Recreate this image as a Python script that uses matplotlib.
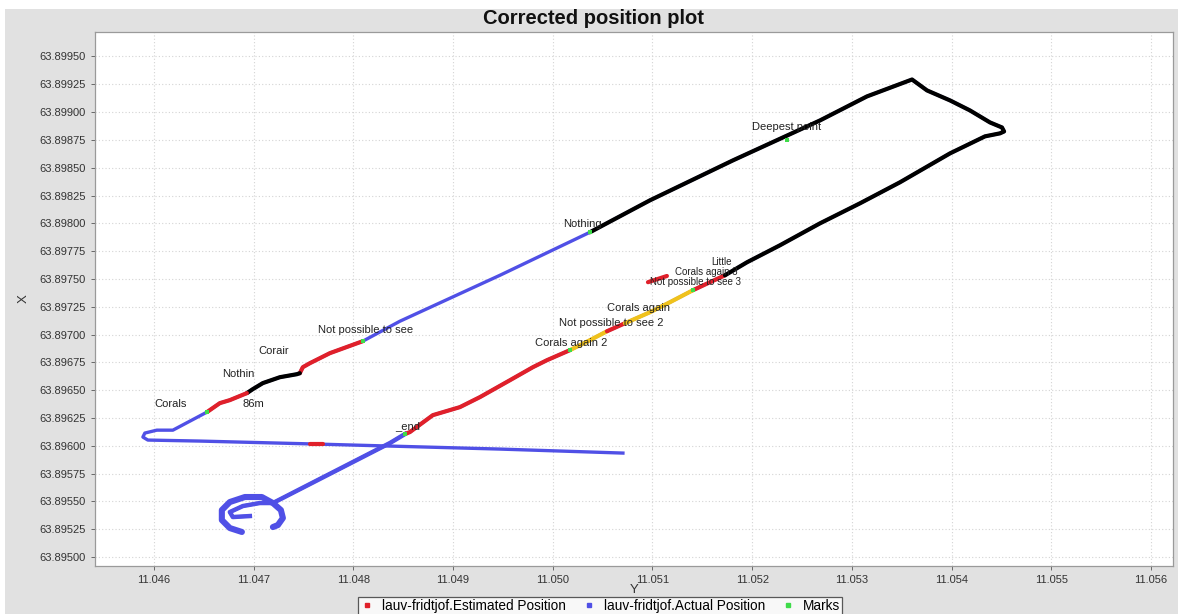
import numpy as np
import matplotlib.pyplot as plt
from matplotlib.lines import Line2D
from matplotlib.patches import Rectangle

plt.rcParams['font.family'] = ['Liberation Sans', 'DejaVu Sans']

# ==== Track data: (lon -> "Y" axis, lat -> "X" axis) ====
loop_outer = [(11.046883, 63.895226), (11.046762, 63.895261), (11.046682, 63.895333),
              (11.046682, 63.895423), (11.046762, 63.895495), (11.046913, 63.895540),
              (11.047083, 63.895540), (11.047194, 63.895486), (11.047274, 63.895423),
              (11.047294, 63.895351), (11.047244, 63.895288), (11.047194, 63.895270)]

dive = [(11.046963, 63.895369), (11.046792, 63.895360), (11.046762, 63.895405),
        (11.046893, 63.895459), (11.047063, 63.895486), (11.047194, 63.895486),
        (11.048367, 63.896025), (11.048518, 63.896106)]

red_1 = [(11.048518, 63.896106), (11.048568, 63.896124), (11.048798, 63.896276),
         (11.049069, 63.896348), (11.049270, 63.896438), (11.049571, 63.896590),
         (11.049801, 63.896707), (11.049942, 63.896770), (11.050172, 63.896860)]
yellow_1 = [(11.050172, 63.896860), (11.050373, 63.896950), (11.050544, 63.897030)]
red_2 = [(11.050544, 63.897030), (11.050724, 63.897102)]
yellow_2 = [(11.050724, 63.897102), (11.050975, 63.897201), (11.051175, 63.897291),
            (11.051406, 63.897399)]
red_3 = [(11.051406, 63.897399), (11.051577, 63.897471), (11.051727, 63.897533)]
black_1 = [(11.051727, 63.897533), (11.051948, 63.897650), (11.052279, 63.897803),
           (11.052680, 63.898000), (11.053081, 63.898180), (11.053482, 63.898369),
           (11.053984, 63.898629), (11.054335, 63.898782), (11.054485, 63.898809),
           (11.054526, 63.898826), (11.054505, 63.898862), (11.054385, 63.898907),
           (11.054184, 63.899015), (11.053984, 63.899105), (11.053753, 63.899195),
           (11.053603, 63.899293), (11.053151, 63.899141), (11.052680, 63.898925),
           (11.051807, 63.898566), (11.050975, 63.898207), (11.050373, 63.897920)]
blue_back = [(11.050373, 63.897920), (11.049470, 63.897533), (11.048467, 63.897120),
             (11.048096, 63.896941)]
red_4 = [(11.048096, 63.896941), (11.047765, 63.896833), (11.047565, 63.896743),
         (11.047494, 63.896707), (11.047464, 63.896653)]
black_2 = [(11.047464, 63.896653), (11.047434, 63.896644), (11.047264, 63.896617),
           (11.047093, 63.896564), (11.046993, 63.896510), (11.046933, 63.896474)]
red_5 = [(11.046933, 63.896474), (11.046762, 63.896411), (11.046662, 63.896384),
         (11.046532, 63.896303)]
blue_home = [(11.046532, 63.896303), (11.046191, 63.896141), (11.046030, 63.896141),
             (11.045910, 63.896115), (11.045890, 63.896079), (11.045940, 63.896052),
             (11.046461, 63.896043), (11.047635, 63.896016), (11.048367, 63.895998),
             (11.049470, 63.895971), (11.050704, 63.895935)]
red_blip = [(11.047565, 63.896016), (11.047695, 63.896016)]
red_stub = [(11.050955, 63.897471), (11.051145, 63.897527)]

marks = [(11.046532, 63.896303), (11.048096, 63.896941), (11.048518, 63.896106),
         (11.050172, 63.896860), (11.051406, 63.897399), (11.050373, 63.897920),
         (11.052349, 63.898746)]

label_text = ['Corals', '86m', 'Nothin', 'Corair', 'Not possible to see', '_end',
              'Nothing', 'Deepest point', 'Corals again 2', 'Not possible to see 2',
              'Corals again', 'Not possible to see 3', 'Corals again 3', 'Little']
label_lon = [11.046010, 11.046893, 11.046682, 11.047053, 11.047645, 11.048417,
             11.050102, 11.051998, 11.049821, 11.050060, 11.050544, 11.050980,
             11.051225, 11.051587]
label_lat = [63.896375, 63.896375, 63.896644, 63.896851, 63.897039, 63.896177,
             63.897991, 63.898862, 63.896923, 63.897102, 63.897237, 63.897470,
             63.897560, 63.897650]
label_size = [8, 8, 8, 8, 8, 8, 8, 8, 8, 8, 8, 7, 7, 7]

x_ticks = [11.046, 11.047, 11.048, 11.049, 11.050, 11.051, 11.052, 11.053, 11.054, 11.055, 11.056]
y_ticks = [63.895 + 0.00025 * i for i in range(19)]

BLUE = '#5050e6'
RED = '#e0202a'
YELLOW = '#f0c21c'
GREEN = '#3fdc4a'


def xy(pts):
    a = np.array(pts)
    return a[:, 0], a[:, 1]


# ==== Figure ====
fig = plt.figure(figsize=(11.78, 6.14), dpi=100, facecolor='white')
fig.patches.append(Rectangle((5 / 1178, 0), 1, 605 / 614, transform=fig.transFigure,
                             facecolor='#e1e1e1', edgecolor='none', zorder=-10))
ax = fig.add_axes([95 / 1178, 48 / 614, 1078 / 1178, 534 / 614])
ax.set_facecolor('white')

# actual position: whole track in blue
lx, ly = xy(loop_outer)
ax.plot(lx, ly, color=BLUE, lw=4.4, solid_capstyle='round', zorder=2)
track = dive + red_1 + yellow_1 + red_2 + yellow_2 + red_3 + black_1 + blue_back + \
    red_4 + black_2 + red_5 + blue_home
tx, ty = xy(track)
ax.plot(tx, ty, color=BLUE, lw=2.4, solid_joinstyle='round', zorder=2)
tx, ty = xy(dive)
ax.plot(tx, ty, color=BLUE, lw=3.2, solid_joinstyle='round', zorder=2)

# estimated / annotated overlays
for seg, col in [(red_1, RED), (yellow_1, YELLOW), (red_2, RED), (yellow_2, YELLOW),
                 (red_3, RED), (black_1, 'black'), (red_4, RED), (black_2, 'black'),
                 (red_5, RED), (red_blip, RED), (red_stub, RED)]:
    sx, sy = xy(seg)
    ax.plot(sx, sy, color=col, lw=3.0, solid_joinstyle='round', solid_capstyle='round', zorder=3)

mx, my = xy(marks)
ax.scatter(mx, my, s=10, marker='s', color=GREEN, zorder=4, linewidths=0)

for t, lo, la, fs in zip(label_text, label_lon, label_lat, label_size):
    ax.text(lo, la, t, fontsize=fs, color='#222222', ha='left', va='center', zorder=5)

# ==== Axes styling ====
ax.set_xlim(11.04541, 11.05622)
ax.set_ylim(63.89492, 63.89972)
ax.set_xticks(x_ticks)
ax.set_yticks(y_ticks)
ax.set_xticklabels([f'{v:.3f}' for v in x_ticks])
ax.set_yticklabels([f'{v:.5f}' for v in y_ticks])
ax.tick_params(labelsize=8, colors='#555555', length=3, width=0.6, labelcolor='#333333')
ax.grid(True, color='#d4d4d4', linestyle=(0, (1, 2)), lw=0.8)
ax.set_axisbelow(True)
for s in ax.spines.values():
    s.set_color('#9a9a9a')
    s.set_linewidth(0.9)

ax.set_xlabel('Y', fontsize=9.5, color='#333333', labelpad=-1)
ax.set_ylabel('X', fontsize=9.5, color='#333333', labelpad=7)
fig.text(593 / 1178, 1 - 19 / 614, 'Corrected position plot', ha='center', va='center',
         fontsize=14.5, fontweight='bold', color='#111111')

handles = [Line2D([], [], color=RED, marker='s', ms=3, lw=0),
           Line2D([], [], color=BLUE, marker='s', ms=3, lw=0),
           Line2D([], [], color=GREEN, marker='s', ms=3, lw=0)]
leg = fig.legend(handles, ['lauv-fridtjof.Estimated Position', 'lauv-fridtjof.Actual Position', 'Marks'],
                 loc='center', bbox_to_anchor=(600 / 1178, 1 - 606 / 614), ncol=3, fontsize=9.8,
                 frameon=True, fancybox=False, borderpad=0.12, handlelength=1.0,
                 handletextpad=0.6, columnspacing=1.2)
leg.get_frame().set_edgecolor('#333333')
leg.get_frame().set_linewidth(0.9)

fig.savefig('out.png', dpi=100, facecolor=fig.get_facecolor())
